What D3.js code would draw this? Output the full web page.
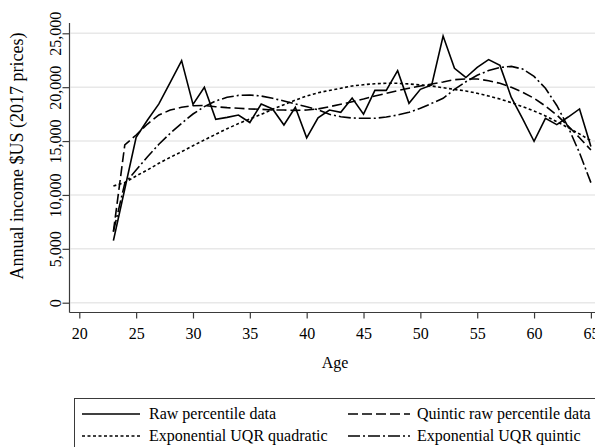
<!DOCTYPE html>
<html lang="en">
<head>
  <meta charset="UTF-8" />
  <title>Annual income by age</title>
  <script src="https://d3js.org/d3.v7.min.js"></script>
  <style>
    body {
      margin: 0;
      background: #ffffff;
    }
    svg {
      display: block;
      font-family: "Liberation Serif", "Times New Roman", serif;
    }
    .grid line {
      stroke: #e8e8e8;
      stroke-width: 1.5;
    }
    .axis line, .frame {
      stroke: #3a3a3a;
      stroke-width: 1.2;
    }
    .series {
      fill: none;
      stroke: #000;
      stroke-width: 1.6;
    }
  </style>
</head>
<body>
  <svg width="595" height="447"></svg>

  <script>
    const serif = '"Liberation Serif", "Times New Roman", serif';

    // ages 23..65
    const ages = d3.range(23, 66);

    const rawPercentile = [
      5760, 10550, 15350, 16950, 18450, 20450, 22460, 18400, 19990, 17020,
      17200, 17420, 16720, 18440, 17980, 16490, 18130, 15300, 17150, 17880,
      17670, 18990, 17500, 19700, 19700, 21530, 18500, 19800, 20200, 24750,
      21750, 20900, 21830, 22560, 22020, 19050, 17050, 14980, 17110, 16520,
      17230, 17980, 14500
    ];
    const quinticRaw = [
      6600, 14640, 15560, 16580, 17420, 17880, 18130, 18280, 18300, 18190,
      18100, 18040, 17980, 17950, 17880, 17880, 17850, 17880, 17980, 18190,
      18410, 18650, 18900, 19180, 19430, 19680, 19900, 20110, 20300, 20480,
      20700, 20760, 20760, 20600, 20360, 19990, 19530, 18970, 18250, 17420,
      16400, 15310, 14170
    ];
    const expQuadratic = [
      10830, 11150, 11760, 12320, 12940, 13490, 14010, 14570, 15100, 15630,
      16150, 16620, 17050, 17480, 17950, 18380, 18800, 19180, 19480, 19700,
      19900, 20110, 20230, 20320, 20360, 20360, 20300, 20200, 20110, 19950,
      19790, 19650, 19430, 19180, 18900, 18560, 18190, 17790, 17330, 16800,
      16240, 15660, 15030
    ];
    const expQuintic = [
      6600, 11080, 12310, 13550, 14700, 15720, 16650, 17510, 18200, 18720,
      19060, 19240, 19270, 19180, 18970, 18720, 18440, 18190, 17900, 17480,
      17260, 17140, 17110, 17110, 17230, 17420, 17670, 18040, 18500, 18970,
      19800, 20500, 21100, 21550, 21830, 21930, 21680, 21000, 19900, 18300,
      16300, 13900, 11140
    ];

    const xTicks = d3.range(20, 66, 5);
    const yTicks = [0, 5000, 10000, 15000, 20000, 25000];

    const seriesNames = [
      "Raw percentile data",
      "Quintic raw percentile data",
      "Exponential UQR quadratic",
      "Exponential UQR quintic"
    ];

    const svg = d3.select("svg");

    const x = d3.scaleLinear().domain([20, 65]).range([79.3, 590.9]);
    const y = d3.scaleLinear().domain([0, 25000]).range([302.7, 33.3]);

    const plotLeft = 69.5, plotBottom = 312.5, plotTop = 23, plotRight = 602;

    // gridlines
    svg.append("g").attr("class", "grid")
      .selectAll("line").data(yTicks).join("line")
      .attr("x1", plotLeft + 1).attr("x2", plotRight)
      .attr("y1", d => y(d)).attr("y2", d => y(d));

    // line styles: solid, dash, short dash, dash-dot
    const dashes = [null, "10,4", "3,2.5", "12,3,2,3"];
    const seriesData = [rawPercentile, quinticRaw, expQuadratic, expQuintic];

    const line = d3.line()
      .x((d, i) => x(ages[i]))
      .y(d => y(d));

    svg.append("g").selectAll("path").data(seriesData).join("path")
      .attr("class", "series")
      .attr("d", line)
      .attr("stroke-dasharray", (d, i) => dashes[i]);

    // axes
    const yAxis = svg.append("g")
      .attr("class", "axis")
      .attr("transform", `translate(${plotLeft},0)`)
      .call(d3.axisLeft(y).tickValues(yTicks).tickSize(7).tickFormat(d3.format(",")));
    yAxis.select(".domain").remove();
    yAxis.selectAll("text")
      .attr("x", 0).attr("y", -8.5).attr("dy", 0)
      .attr("transform", "rotate(-90)")
      .attr("text-anchor", "middle");

    const xAxis = svg.append("g")
      .attr("class", "axis")
      .attr("transform", `translate(0,${plotBottom})`)
      .call(d3.axisBottom(x).tickValues(xTicks).tickSize(6));
    xAxis.select(".domain").remove();
    xAxis.selectAll("text").attr("y", 26.5).attr("dy", 0);

    svg.selectAll(".axis")
      .attr("font-family", null).attr("font-size", null);
    svg.selectAll(".axis text")
      .style("font-family", serif)
      .style("font-size", "16px")
      .attr("fill", "#000");

    svg.append("line").attr("class", "frame")
      .attr("x1", plotLeft).attr("x2", plotLeft)
      .attr("y1", plotTop).attr("y2", plotBottom);
    svg.append("line").attr("class", "frame")
      .attr("x1", plotLeft).attr("x2", plotRight)
      .attr("y1", plotBottom).attr("y2", plotBottom);

    // titles
    svg.append("text")
      .attr("transform", "translate(23,156) rotate(-90)")
      .attr("text-anchor", "middle")
      .style("font-size", "18px")
      .text("Annual income $US (2017 prices)");

    svg.append("text")
      .attr("x", 335).attr("y", 368)
      .attr("text-anchor", "middle")
      .style("font-size", "16px")
      .text("Age");

    // legend
    const legend = svg.append("g");
    legend.append("rect")
      .attr("x", 74.5).attr("y", 398.5)
      .attr("width", 600).attr("height", 100)
      .attr("fill", "none").attr("stroke", "#3a3a3a").attr("stroke-width", 1);

    const legendPos = [
      { sx: 82, ex: 140, tx: 149, ly: 414 },
      { sx: 348, ex: 410, tx: 417, ly: 414 },
      { sx: 82, ex: 140, tx: 149, ly: 436 },
      { sx: 348, ex: 410, tx: 417, ly: 436 }
    ];

    const items = legend.selectAll("g").data(seriesNames).join("g");
    items.append("line")
      .attr("class", "series")
      .attr("x1", (d, i) => legendPos[i].sx).attr("x2", (d, i) => legendPos[i].ex)
      .attr("y1", (d, i) => legendPos[i].ly).attr("y2", (d, i) => legendPos[i].ly)
      .attr("stroke-dasharray", (d, i) => dashes[i]);
    items.append("text")
      .attr("x", (d, i) => legendPos[i].tx)
      .attr("y", (d, i) => legendPos[i].ly + 5)
      .style("font-size", "16px")
      .text(d => d);
  </script>
</body>
</html>
